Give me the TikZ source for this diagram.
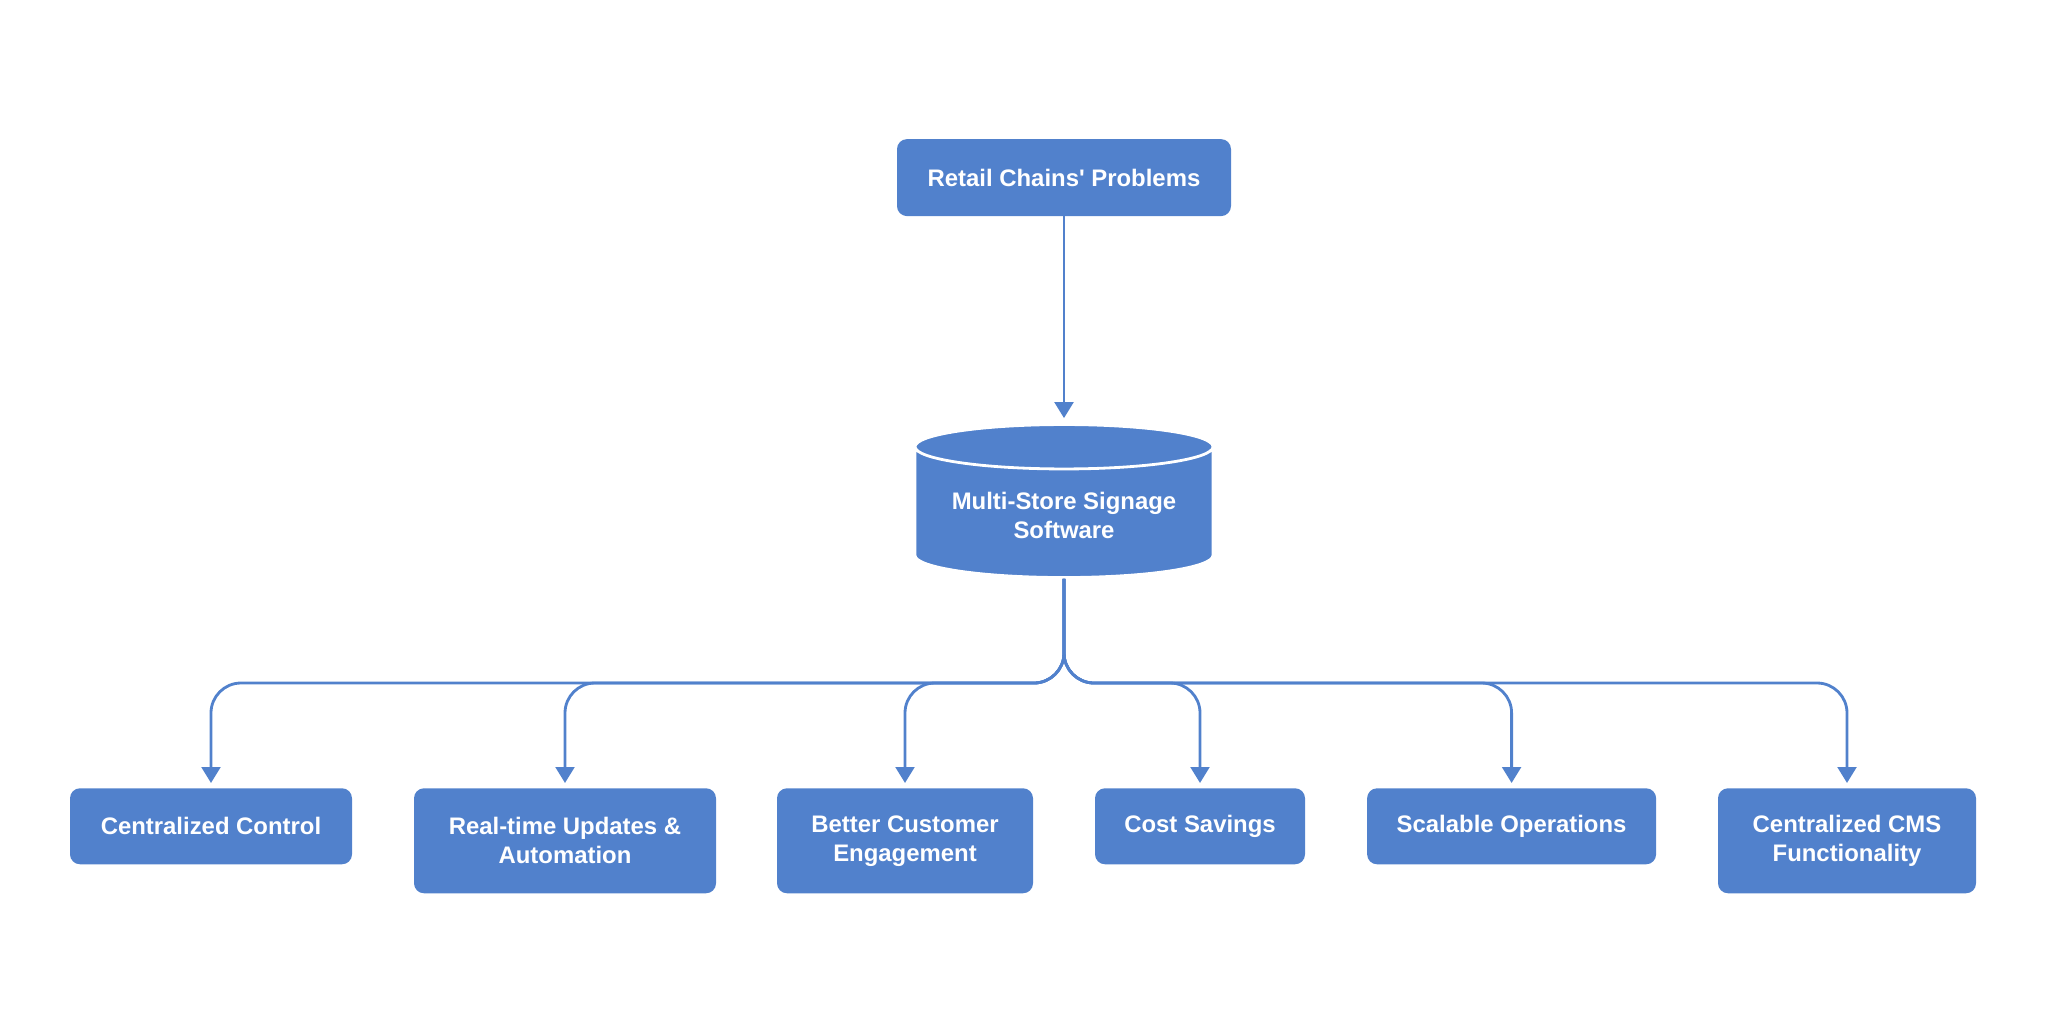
\documentclass[tikz,border=0pt]{standalone}
\usepackage{fontspec}
\setmainfont{Liberation Sans}
\usetikzlibrary{shapes.geometric, arrows.meta, positioning, calc}
\definecolor{flowblue}{RGB}{81, 129, 204}

\begin{document}
\begin{tikzpicture}[
    card/.style={rectangle, rounded corners=0.25cm, fill=flowblue, text=white, minimum width=#1, minimum height=1.9cm, align=center, font=\fontsize{17}{20.5}\selectfont\bfseries, anchor=north},
    tall/.style={minimum height=2.625cm},
    store/.style={cylinder, shape border rotate=90, aspect=0.19, fill=flowblue, draw=white, line width=2pt, text=white, minimum width=7.45cm, minimum height=3.825cm, align=center, font=\fontsize{17}{20.5}\selectfont\bfseries},
    arrow/.style={-{Triangle[width=0.47cm, length=0.4cm]}, line width=2pt, flowblue, shorten >=0.125cm},
    branch/.style={arrow, rounded corners=0.75cm}
]
    \useasboundingbox (0,0) rectangle (51.2,-25.8);

    \node[card=8.35cm, minimum height=1.925cm, anchor=center] (prob) at (26.6,-4.44) {Retail Chains\textquotesingle\ Problems};
    \node[store] (sw) at (26.6,-12.89) {Multi-Store Signage\\Software};
    \coordinate (hub) at (26.6,-17.075);

    \node[card=7.05cm] (cc) at (5.275,-19.7) {Centralized Control};
    \node[card=7.55cm, tall] (rt) at (14.125,-19.7) {Real-time Updates \&\\Automation};
    \node[card=6.4cm, tall] (bc) at (22.625,-19.7) {Better Customer\\Engagement};
    \node[card=5.25cm] (cs) at (30,-19.7) {Cost Savings};
    \node[card=7.225cm] (so) at (37.79,-19.7) {Scalable Operations};
    \node[card=6.45cm, tall] (cms) at (46.175,-19.7) {Centralized CMS\\Functionality};

    \draw[arrow] (prob) -- (sw);
    \foreach \leaf in {cc, rt, bc, cs, so, cms}
        \draw[branch] (sw.south) -- (hub) -| (\leaf.north);
\end{tikzpicture}
\end{document}
